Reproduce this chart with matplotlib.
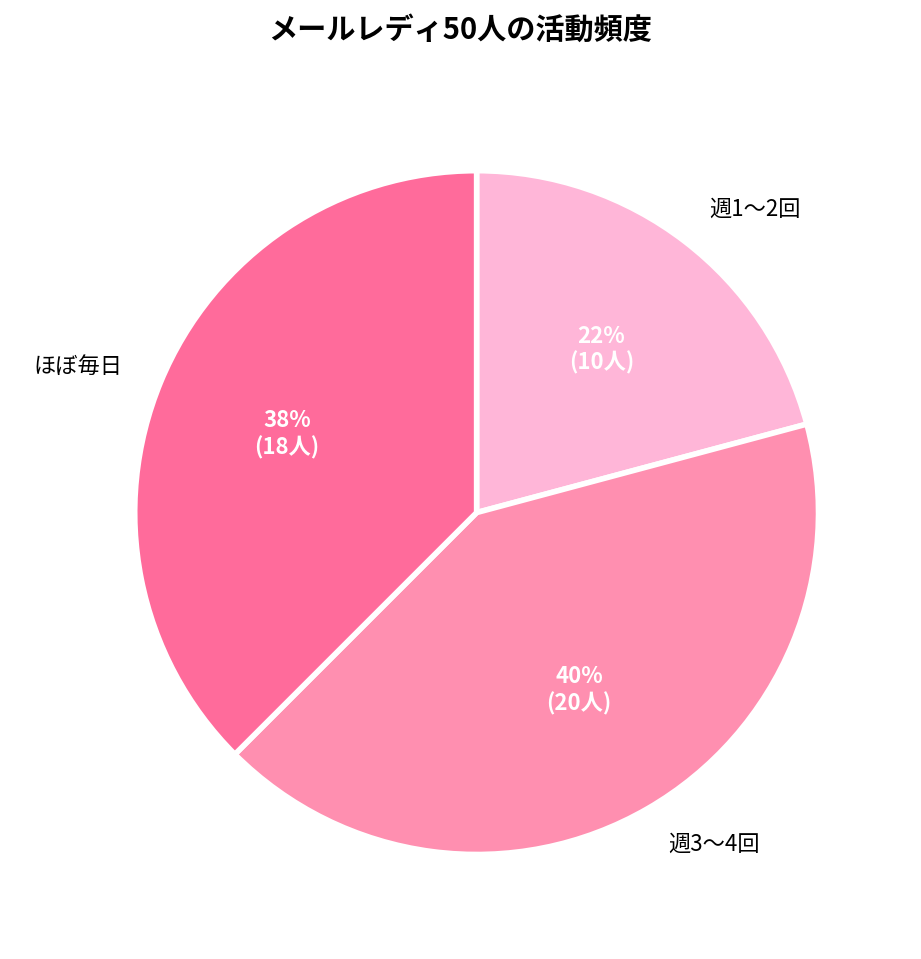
import matplotlib
matplotlib.use("Agg")
import matplotlib.pyplot as plt
import numpy as np

plt.rcParams['font.family'] = ['Noto Sans CJK JP', 'DejaVu Sans']

categories = ['週1〜2回', '週3〜4回', 'ほぼ毎日']
counts = [10, 20, 18]
percents = [22, 40, 38]
colors = ['#FFB6D8', '#FF8FB0', '#FF6B9B']

fig = plt.figure(figsize=(9.21, 9.59), dpi=100)
ax = fig.add_axes([0.146, 0.109, 0.743, 0.713])
wedges, texts = ax.pie(counts, labels=categories, colors=colors, startangle=90,
                       counterclock=False, labeldistance=1.12,
                       wedgeprops=dict(edgecolor='white', linewidth=4),
                       textprops=dict(fontsize=16))
for w, p, c in zip(wedges, percents, counts):
    ang = np.deg2rad((w.theta1 + w.theta2) / 2)
    ax.text(0.6 * np.cos(ang), 0.6 * np.sin(ang), f"{p}%\n({c}人)", ha='center', va='center',
            color='white', fontsize=16, fontweight='bold', linespacing=1.2)
ax.set_aspect('equal')
ax.set_xlim(-1, 1)
ax.set_ylim(-1, 1)
fig.suptitle('メールレディ50人の活動頻度', fontsize=21, fontweight='bold', y=0.985)
fig.savefig('out.png', dpi=100)
